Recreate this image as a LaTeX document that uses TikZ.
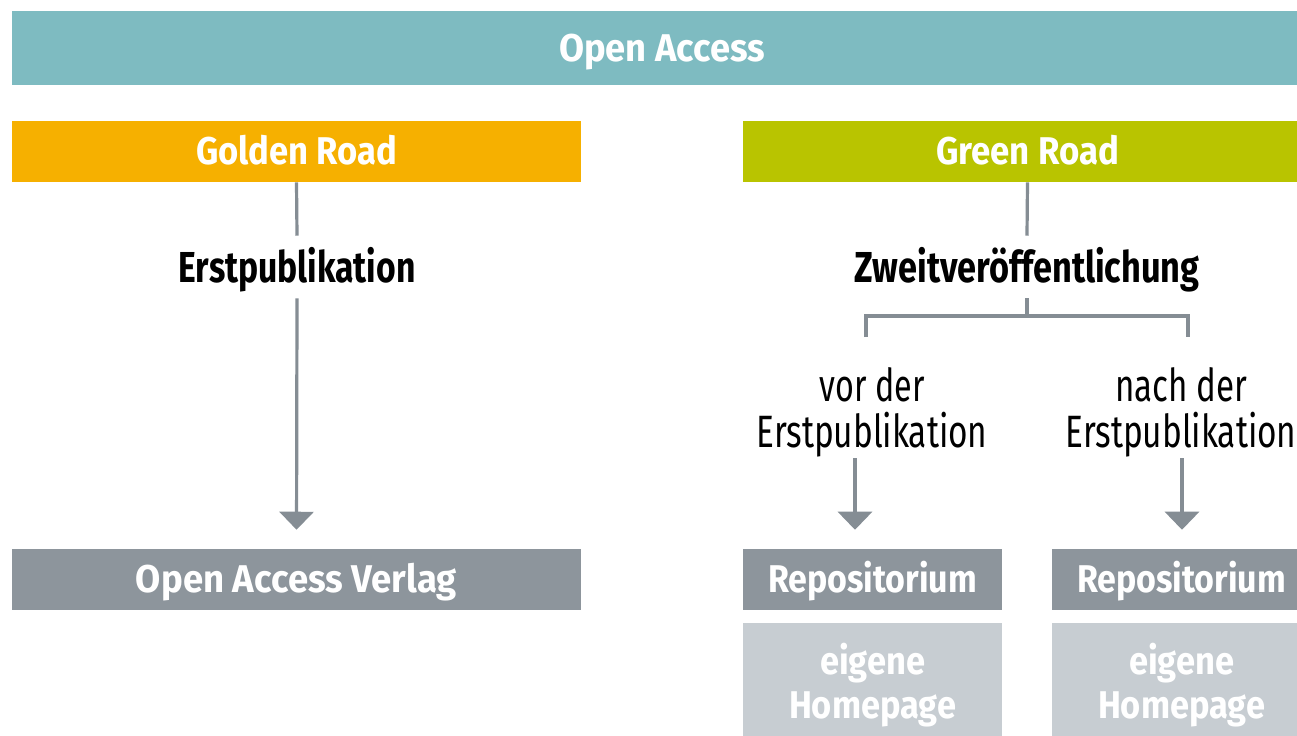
\documentclass[tikz,border=0pt]{standalone}
\usepackage{fontspec}
\setmainfont{Fira Sans}
\usepackage{graphicx}
\usetikzlibrary{arrows.meta}
\definecolor{teal}{HTML}{7EBBC1}
\definecolor{gold}{HTML}{F6B000}
\definecolor{lime}{HTML}{B9C400}
\definecolor{boxgray}{HTML}{8D959C}
\definecolor{lightgray}{HTML}{C7CDD2}
\definecolor{linegray}{HTML}{858D94}
% horizontal fit: #1 width in pt
\newcommand\hw[2]{\resizebox{#1pt}{\height}{#2}}
\begin{document}
\begin{tikzpicture}[x=0.75pt,y=-0.75pt,
  bar/.style={rectangle,inner sep=0pt,text=white,font=\fontsize{29}{30}\selectfont\bfseries,
    text height=20pt,text depth=0pt},
  homebox/.style={rectangle,inner sep=0pt,fill=lightgray,text=white,align=center,
    minimum width=194.25pt,minimum height=93pt,font=\fontsize{29}{32.5}\selectfont\bfseries},
  head/.style={inner sep=0pt,text=black,font=\fontsize{32.5}{34}\selectfont\bfseries,
    text height=22.5pt,text depth=0pt,inner ysep=12pt},
  plain/.style={inner sep=0pt,text=black,align=center,font=\fontsize{34}{34.5}\selectfont},
  conn/.style={draw=linegray,line width=2.4pt},
  arr/.style={conn,-{Triangle[width=25.5pt,length=13.5pt]},shorten >=14.25pt}]
\useasboundingbox (0,0) rectangle (1297,736);
\fill[white] (0,0) rectangle (1297,736);
% bars
\node[bar,fill=teal,minimum width=975pt,minimum height=55.5pt] (oa) at (662,48) {\hw{154.5}{Open Access}};
\node[bar,fill=gold,minimum width=426.75pt,minimum height=45.75pt] (gold) at (296.5,151.5) {\hw{150.75}{Golden Road}};
\node[bar,fill=lime,minimum width=426.75pt,minimum height=45.75pt] (green) at (1027.5,151.5) {\hw{137.25}{Green Road}};
% heads
\node[head] (erst) at (297,267) {\hw{177.75}{Erstpublikation}};
\node[head] (zweit) at (1027,267) {\hw{258.75}{Zweitveröffentlichung}};
% plain texts
\node[plain] (vor) at (872,412) {\hw{78.75}{vor der}\\\hw{173.25}{Erstpublikation}};
\node[plain] (nach) at (1181,412) {\hw{99}{nach der}\\\hw{173.25}{Erstpublikation}};
% bottom boxes
\node[bar,fill=boxgray,minimum width=426.75pt,minimum height=45.75pt] (verlag) at (296.5,579.5) {\hw{240.75}{Open Access Verlag}};
\node[bar,fill=boxgray,minimum width=194.25pt,minimum height=45.75pt] (repoA) at (872.5,579.5) {\hw{156.75}{Repositorium}};
\node[bar,fill=boxgray,minimum width=194.25pt,minimum height=45.75pt] (repoB) at (1181.5,579.5) {\hw{156.75}{Repositorium}};
\node[homebox] (homeA) at (872.5,685) {\hw{78.75}{eigene}\\\hw{125.25}{Homepage}};
\node[homebox] (homeB) at (1181.5,685) {\hw{78.75}{eigene}\\\hw{125.25}{Homepage}};
% connectors
\draw[conn] (gold.south) -- (erst.north);
\draw[arr] (erst.south) -- (verlag.north);
\draw[conn] (green.south) -- (zweit.north);
\coordinate (bj) at (1027,316);
\coordinate (bl) at (866,337);
\coordinate (br) at (1188,337);
\draw[conn] (zweit.south) -- (bj);
\draw[conn] (bl) |- (bj) -| (br);
\coordinate (va) at (855,458);
\coordinate (na) at (1182,458);
\draw[arr] (va) -- (va |- repoA.north);
\draw[arr] (na) -- (na |- repoB.north);
\end{tikzpicture}
\end{document}
